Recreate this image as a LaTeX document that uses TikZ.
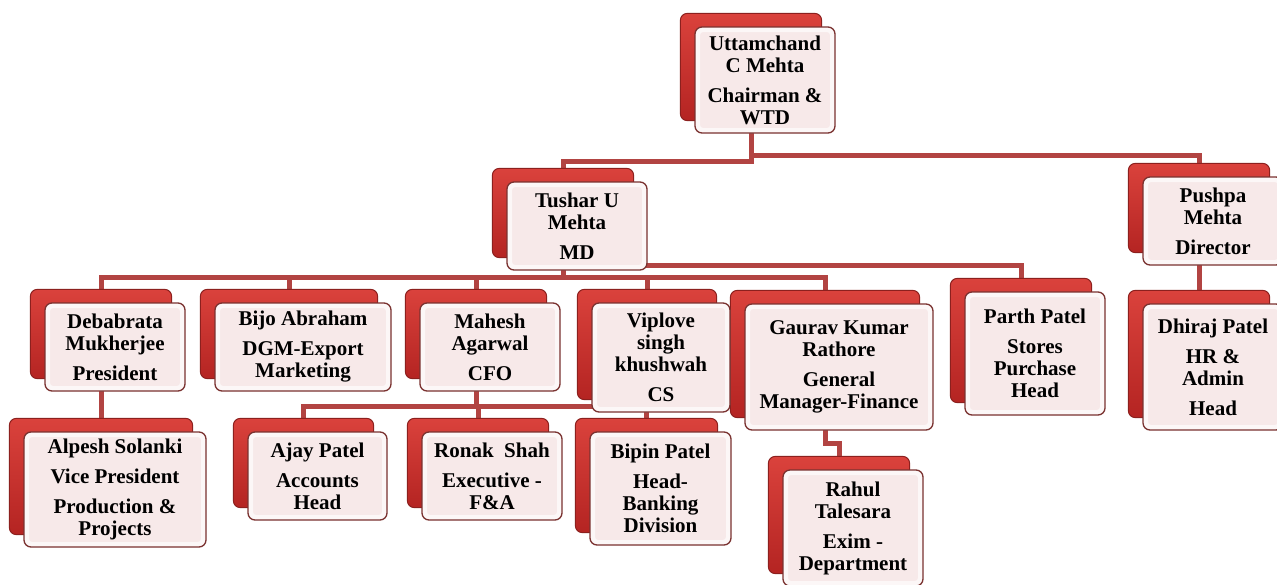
\documentclass[tikz,border=0pt]{standalone}
\usepackage{fontspec}
\setmainfont{Liberation Serif}
\usetikzlibrary{backgrounds,calc}
\definecolor{backtop}{RGB}{218,66,60}
\definecolor{backbot}{RGB}{180,36,34}
\definecolor{backedge}{RGB}{140,32,30}
\definecolor{frontfill}{RGB}{247,233,233}
\definecolor{frontedge}{RGB}{122,50,48}
\definecolor{connred}{RGB}{178,68,66}
\tikzset{
  card/.style={rectangle, rounded corners=7pt, fill=frontfill, draw=frontedge,
    line width=1.3pt, inner sep=0pt, align=center,
    font=\fontsize{21}{22}\selectfont\bfseries,
    path picture={\draw[white, line width=5pt, opacity=0.65, rounded corners=5pt]
      ([shift={(2.5pt,2.5pt)}]path picture bounding box.south west) rectangle
      ([shift={(-2.5pt,-2.5pt)}]path picture bounding box.north east);}},
  backcard/.style={rounded corners=7pt, top color=backtop, bottom color=backbot,
    draw=backedge, line width=1pt},
  conn/.style={connred, line width=5pt},
}
\newcommand\orgline[3]{\draw[conn] let \p1=([shift={(-14pt,13pt)}]#1.south),
  \p2=([shift={(-14pt,13pt)}]#2.north) in
  (\p1) -- (\x1,-#3pt) -- (\x2,-#3pt) -- (\p2);}
\begin{document}
\begin{tikzpicture}[x=1pt,y=-1pt]
\useasboundingbox (0,0) rectangle (1277,584);
% level 0
\node[card, minimum width=140pt, minimum height=106pt] (chair) at (765,80)
  {Uttamchand\\C Mehta\\[8pt]Chairman \&\\WTD};
% level 1
\node[card, minimum width=140pt, minimum height=88pt] (tushar) at (577,226)
  {Tushar U\\Mehta\\[8pt]MD};
\node[card, minimum width=140pt, minimum height=88pt] (pushpa) at (1213,221)
  {Pushpa\\Mehta\\[8pt]Director};
% level 2
\node[card, minimum width=140pt, minimum height=88pt] (deb) at (115,347)
  {Debabrata\\Mukherjee\\[8pt]President};
\node[card, minimum width=176pt, minimum height=88pt] (bijo) at (303,347)
  {Bijo Abraham\\[8pt]DGM-Export\\Marketing};
\node[card, minimum width=140pt, minimum height=88pt] (mahesh) at (490,347)
  {Mahesh\\Agarwal\\[8pt]CFO};
\node[card, minimum width=138pt, minimum height=109pt] (viplove) at (661,357.5)
  {Viplove\\singh\\khushwah\\[8pt]CS};
\node[card, minimum width=188pt, minimum height=126pt] (gaurav) at (839,367)
  {Gaurav Kumar\\Rathore\\[8pt]General\\Manager-Finance};
\node[card, minimum width=140pt, minimum height=123pt] (parth) at (1035,353.5)
  {Parth Patel\\[8pt]Stores\\Purchase\\Head};
\node[card, minimum width=140pt, minimum height=126pt] (dhiraj) at (1213,367)
  {Dhiraj Patel\\[8pt]HR \&\\Admin\\[8pt]Head};
% level 3
\node[card, minimum width=182pt, minimum height=115pt] (alpesh) at (115,489.5)
  {Alpesh Solanki\\[8pt]Vice President\\[8pt]Production \&\\Projects};
\node[card, minimum width=139pt, minimum height=88pt] (ajay) at (317.5,476)
  {Ajay Patel\\[8pt]Accounts\\Head};
\node[card, minimum width=140pt, minimum height=88pt] (ronak) at (492,476)
  {Ronak\ \ Shah\\[8pt]Executive -\\F\&A};
\node[card, minimum width=141pt, minimum height=113pt] (bipin) at (660.5,488.5)
  {Bipin Patel\\[8pt]Head-\\Banking\\Division};
\node[card, minimum width=140pt, minimum height=116pt] (rahul) at (853,528)
  {Rahul\\Talesara\\[8pt]Exim -\\Department};
\begin{pgfonlayer}{background}
  \fill[white] (0,0) rectangle (1277,584);
  \orgline{chair}{tushar}{161}
  \orgline{chair}{pushpa}{155}
  \orgline{tushar}{deb}{277}
  \orgline{tushar}{bijo}{277}
  \orgline{tushar}{mahesh}{277}
  \orgline{tushar}{viplove}{277}
  \orgline{tushar}{gaurav}{277}
  \orgline{tushar}{parth}{265}
  \orgline{pushpa}{dhiraj}{280}
  \orgline{deb}{alpesh}{405}
  \orgline{mahesh}{ajay}{406}
  \orgline{mahesh}{ronak}{406}
  \orgline{mahesh}{bipin}{406}
  \orgline{gaurav}{rahul}{443}
  \foreach \n in {chair,tushar,pushpa,deb,bijo,mahesh,viplove,gaurav,parth,dhiraj,alpesh,ajay,ronak,bipin,rahul}
    \draw[backcard] ([shift={(-14pt,13pt)}]\n.south west) rectangle ([shift={(-14pt,13pt)}]\n.north east);
\end{pgfonlayer}
\end{tikzpicture}
\end{document}
